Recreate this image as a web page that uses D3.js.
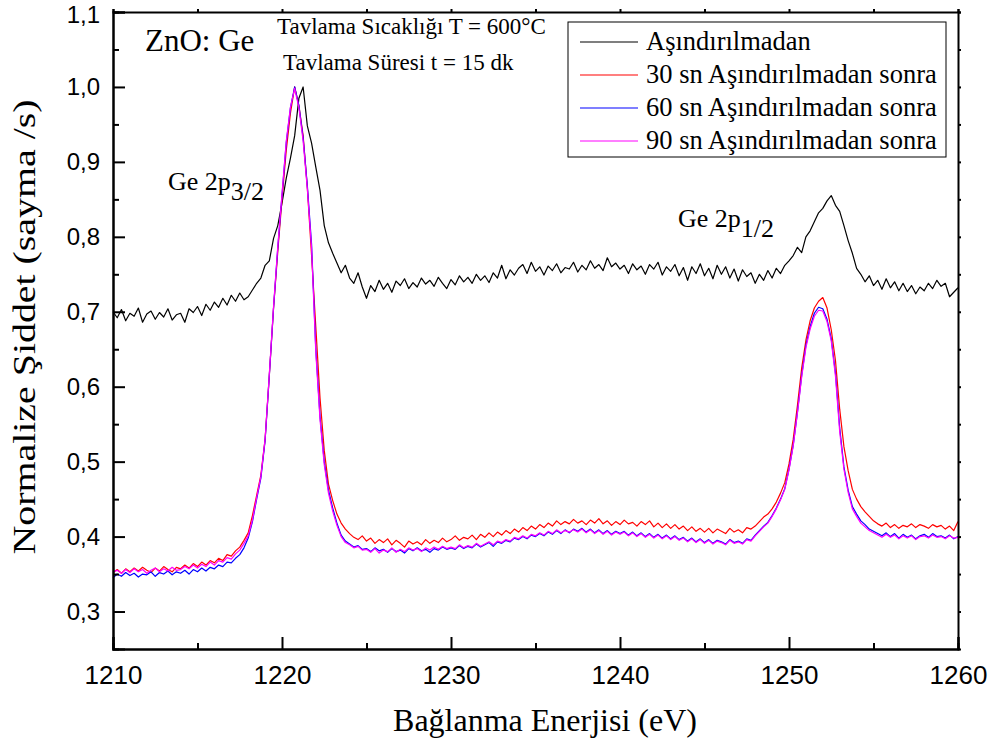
<!DOCTYPE html>
<html>
<head>
<meta charset="utf-8">
<script src="https://cdn.jsdelivr.net/npm/d3@7"></script>
<style>
  body { margin: 0; background: #fff; }
  svg text { font-family: "Liberation Serif", "Times New Roman", serif; fill: #000; }
  .axis text { font-family: "Liberation Sans", Arial, sans-serif; font-size: 24px; }
  .axis.xlab text { font-size: 26px; }
  .axis path, .axis line { stroke: #000; }
</style>
</head>
<body>
<svg id="chart" width="997" height="746"></svg>
<script>
// spectra sampled every 0.25 eV from 1210 to 1260 eV
const energyStart = 1210
const energyStep = 0.25

const seriesNames = ["Aşındırılmadan", "30 sn Aşındırılmadan sonra", "60 sn Aşındırılmadan sonra", "90 sn Aşındırılmadan sonra"]
const seriesColors = ["#000000", "#ff0000", "#0000ff", "#ff00ff"]

const unetched = [
  0.700,0.692,0.703,0.688,0.698,0.694,0.705,0.686,0.697,0.701,0.690,0.699,0.693,0.704,0.689,0.696,
  0.698,0.686,0.704,0.699,0.707,0.695,0.710,0.702,
  0.713,0.706,0.718,0.709,0.722,0.714,0.725,0.716,
  0.720,0.729,0.738,0.745,
  0.762,0.768,0.798,0.815,
  0.845,0.878,0.905,0.935,
  0.985,1.000,0.948,0.925,
  0.893,0.862,0.815,0.792,
  0.778,0.765,0.752,0.762,
  0.745,0.738,0.752,0.733,
  0.718,0.735,0.727,0.742,
  0.730,0.738,0.726,0.741,
  0.735,0.744,0.731,0.739,
  0.733,0.745,0.737,0.742,
  0.734,0.746,0.738,0.731,
  0.743,0.736,0.748,0.740,
  0.746,0.738,0.750,0.742,
  0.748,0.739,0.752,0.745,
  0.762,0.744,0.756,0.749,
  0.758,0.763,0.751,0.766,
  0.754,0.760,0.749,0.761,
  0.755,0.764,0.752,0.759,
  0.757,0.766,0.753,0.762,
  0.756,0.768,0.758,0.763,
  0.755,0.772,0.760,0.765,
  0.757,0.762,0.751,0.764,
  0.756,0.761,0.750,0.763,
  0.757,0.766,0.749,0.760,
  0.754,0.763,0.748,0.759,
  0.742,0.760,0.751,0.764,
  0.748,0.758,0.744,0.762,
  0.750,0.760,0.745,0.757,
  0.741,0.756,0.747,0.752,
  0.738,0.750,0.742,0.755,
  0.745,0.758,0.751,0.762,
  0.768,0.775,0.786,0.779,
  0.800,0.808,0.820,0.832,
  0.838,0.848,0.855,0.842,
  0.834,0.815,0.795,0.778,
  0.758,0.750,0.740,0.748,
  0.735,0.742,0.730,0.744,
  0.732,0.740,0.728,0.738,
  0.727,0.735,0.724,0.733,
  0.728,0.738,0.731,0.742,
  0.734,0.738,0.720,0.726,
  0.732
]

const etched30 = [
  0.352,0.356,0.351,0.357,0.353,0.358,0.354,0.359,0.355,0.352,0.358,0.354,0.360,0.356,0.353,0.359,
  0.357,0.362,0.358,0.364,0.360,0.366,0.362,0.368,
  0.365,0.371,0.368,0.376,0.374,0.381,0.386,0.395,
  0.405,0.428,0.455,0.482,
  0.530,0.615,0.705,0.780,
  0.850,0.915,0.965,1.000,
  0.975,0.935,0.865,0.775,
  0.680,0.585,0.515,0.470,
  0.448,0.430,0.418,0.410,
  0.404,0.399,0.396,0.401,
  0.394,0.398,0.391,0.396,
  0.392,0.397,0.389,0.395,
  0.391,0.386,0.394,0.390,
  0.393,0.389,0.396,0.391,
  0.395,0.392,0.398,0.393,
  0.396,0.401,0.395,0.399,
  0.397,0.402,0.396,0.403,
  0.399,0.405,0.400,0.406,
  0.402,0.408,0.404,0.410,
  0.406,0.412,0.408,0.414,
  0.410,0.416,0.412,0.418,
  0.414,0.421,0.416,0.420,
  0.417,0.423,0.418,0.421,
  0.416,0.422,0.418,0.424,
  0.417,0.421,0.415,0.420,
  0.416,0.422,0.417,0.419,
  0.414,0.420,0.416,0.421,
  0.413,0.418,0.412,0.417,
  0.411,0.416,0.410,0.414,
  0.408,0.413,0.407,0.411,
  0.406,0.411,0.405,0.410,
  0.407,0.404,0.411,0.406,
  0.409,0.405,0.412,0.410,
  0.414,0.420,0.426,0.430,
  0.437,0.446,0.458,0.472,
  0.497,0.530,0.575,0.625,
  0.662,0.688,0.705,0.714,
  0.719,0.705,0.676,0.635,
  0.570,0.520,0.488,0.463,
  0.450,0.440,0.433,0.427,
  0.421,0.417,0.414,0.418,
  0.412,0.416,0.411,0.415,
  0.413,0.417,0.412,0.416,
  0.414,0.411,0.416,0.413,
  0.415,0.410,0.414,0.408,
  0.420
]

const etched60 = [
  0.345,0.350,0.347,0.352,0.348,0.351,0.346,0.350,0.349,0.353,0.347,0.352,0.350,0.354,0.349,0.353,
  0.351,0.355,0.350,0.356,0.353,0.358,0.354,0.359,
  0.357,0.362,0.360,0.366,0.365,0.371,0.376,0.385,
  0.398,0.420,0.450,0.478,
  0.528,0.615,0.705,0.785,
  0.855,0.925,0.972,1.000,
  0.975,0.932,0.868,0.790,
  0.650,0.560,0.500,0.462,
  0.438,0.418,0.402,0.394,
  0.390,0.386,0.388,0.383,
  0.384,0.380,0.385,0.381,
  0.383,0.379,0.384,0.380,
  0.382,0.378,0.384,0.381,
  0.385,0.381,0.383,0.379,
  0.384,0.382,0.386,0.383,
  0.385,0.383,0.388,0.384,
  0.387,0.385,0.390,0.386,
  0.389,0.392,0.387,0.393,
  0.391,0.395,0.393,0.398,
  0.396,0.400,0.397,0.402,
  0.400,0.404,0.401,0.406,
  0.403,0.408,0.404,0.409,
  0.405,0.410,0.407,0.411,
  0.406,0.410,0.405,0.409,
  0.404,0.408,0.403,0.407,
  0.404,0.407,0.402,0.406,
  0.401,0.405,0.400,0.404,
  0.399,0.403,0.398,0.402,
  0.397,0.401,0.396,0.399,
  0.394,0.398,0.393,0.397,
  0.392,0.396,0.391,0.395,
  0.393,0.390,0.396,0.392,
  0.394,0.391,0.397,0.395,
  0.402,0.408,0.414,0.419,
  0.428,0.438,0.450,0.464,
  0.490,0.522,0.566,0.615,
  0.655,0.680,0.698,0.706,
  0.704,0.690,0.664,0.618,
  0.545,0.493,0.462,0.440,
  0.430,0.421,0.416,0.410,
  0.407,0.404,0.401,0.405,
  0.400,0.404,0.398,0.403,
  0.399,0.402,0.397,0.401,
  0.403,0.399,0.404,0.400,
  0.401,0.398,0.402,0.397,
  0.400
]

const etched90 = [
  0.353,0.355,0.351,0.356,0.352,0.357,0.353,0.356,0.351,0.355,0.358,0.353,0.357,0.354,0.359,0.355,
  0.356,0.360,0.357,0.362,0.358,0.363,0.360,0.366,
  0.362,0.368,0.366,0.372,0.370,0.377,0.382,0.391,
  0.401,0.422,0.452,0.480,
  0.530,0.617,0.707,0.787,
  0.857,0.927,0.973,0.998,
  0.972,0.928,0.864,0.785,
  0.646,0.556,0.496,0.458,
  0.434,0.415,0.400,0.392,
  0.389,0.385,0.387,0.382,
  0.383,0.379,0.384,0.378,
  0.382,0.380,0.385,0.379,
  0.383,0.380,0.385,0.382,
  0.384,0.380,0.385,0.382,
  0.386,0.383,0.387,0.384,
  0.386,0.384,0.389,0.385,
  0.388,0.386,0.391,0.387,
  0.390,0.393,0.389,0.394,
  0.392,0.396,0.394,0.399,
  0.397,0.401,0.398,0.403,
  0.401,0.405,0.402,0.407,
  0.404,0.409,0.405,0.408,
  0.406,0.409,0.406,0.410,
  0.405,0.409,0.404,0.408,
  0.403,0.407,0.402,0.406,
  0.403,0.406,0.401,0.405,
  0.400,0.404,0.399,0.403,
  0.398,0.402,0.397,0.401,
  0.396,0.400,0.395,0.398,
  0.393,0.397,0.392,0.396,
  0.391,0.395,0.390,0.394,
  0.392,0.389,0.395,0.391,
  0.393,0.390,0.396,0.394,
  0.401,0.407,0.413,0.418,
  0.427,0.437,0.449,0.463,
  0.489,0.521,0.565,0.613,
  0.652,0.677,0.694,0.702,
  0.701,0.687,0.661,0.614,
  0.540,0.490,0.459,0.437,
  0.427,0.418,0.413,0.408,
  0.405,0.402,0.399,0.403,
  0.399,0.402,0.397,0.401,
  0.398,0.401,0.396,0.400,
  0.401,0.398,0.402,0.399,
  0.400,0.397,0.401,0.398,
  0.399
]

const xMajorTicks = [1210, 1220, 1230, 1240, 1250, 1260]
const xMinorTicks = [1215, 1225, 1235, 1245, 1255]
const yMajorTicks = [0.3, 0.4, 0.5, 0.6, 0.7, 0.8, 0.9, 1.0, 1.1]
const yMinorTicks = [0.35, 0.45, 0.55, 0.65, 0.75, 0.85, 0.95, 1.05]

const allSeries = [unetched, etched30, etched60, etched90]

const svg = d3.select("#chart")
const plotLeft = 113, plotRight = 958, plotTop = 12, plotBottom = 649

const x = d3.scaleLinear().domain([1210, 1260]).range([plotLeft, plotRight])
const y = d3.scaleLinear().domain([0.25, 1.1]).range([plotBottom, plotTop])

svg.append("rect").attr("width", 997).attr("height", 746).attr("fill", "#fff")

// spectra
const line = d3.line()
  .x((d, i) => x(energyStart + i * energyStep))
  .y(d => y(d))

svg.append("g")
  .selectAll("path")
  .data(allSeries)
  .enter().append("path")
  .attr("d", d => line(d))
  .attr("fill", "none")
  .attr("stroke", (d, i) => seriesColors[i])
  .attr("stroke-width", 1.2)
  .attr("stroke-linejoin", "round")

const commaFmt = v => d3.format(".1f")(v).replace(".", ",")

// bottom axis: labelled majors + minors, ticks pointing in
svg.append("g").attr("class", "axis")
  .attr("transform", `translate(0,${plotBottom})`)
  .call(d3.axisBottom(x).tickValues(xMinorTicks).tickSize(-6).tickFormat(""))
svg.append("g").attr("class", "axis xlab")
  .attr("transform", `translate(0,${plotBottom})`)
  .call(d3.axisBottom(x).tickValues(xMajorTicks).tickSize(-12).tickPadding(17).tickFormat(d3.format("d")))

// left axis
svg.append("g").attr("class", "axis")
  .attr("transform", `translate(${plotLeft},0)`)
  .call(d3.axisLeft(y).tickValues(yMinorTicks).tickSize(-6).tickFormat(""))
const yAxisG = svg.append("g").attr("class", "axis")
  .attr("transform", `translate(${plotLeft},0)`)
  .call(d3.axisLeft(y).tickValues(yMajorTicks).tickSize(-12).tickPadding(13).tickFormat(commaFmt))
// keep the top label inside the page
yAxisG.selectAll(".tick text").filter(d => d > 1.05).attr("dy", "0.42em")

// top and right frame with small outward ticks
svg.append("g").attr("class", "axis")
  .attr("transform", `translate(0,${plotTop})`)
  .call(d3.axisTop(x).tickValues(xMajorTicks.concat(xMinorTicks)).tickSize(3).tickFormat(""))
svg.append("g").attr("class", "axis")
  .attr("transform", `translate(${plotRight},0)`)
  .call(d3.axisRight(y).tickValues(yMajorTicks.concat(yMinorTicks)).tickSize(3).tickFormat(""))

svg.selectAll(".axis path").attr("stroke-width", 2)
svg.selectAll(".axis line").attr("stroke-width", 2)

// axis titles
svg.append("text")
  .attr("x", 545).attr("y", 731)
  .attr("text-anchor", "middle")
  .style("font-size", "32px")
  .text("Bağlanma Enerjisi (eV)")

svg.append("text")
  .attr("transform", "translate(35,327) rotate(-90)")
  .attr("text-anchor", "middle")
  .attr("textLength", 455)
  .attr("lengthAdjust", "spacingAndGlyphs")
  .style("font-size", "32px")
  .text("Normalize Şiddet (sayma /s)")

// annotations
svg.append("text").attr("x", 145).attr("y", 51).style("font-size", "31px").text("ZnO: Ge")
svg.append("text").attr("x", 277).attr("y", 34).style("font-size", "23px").text("Tavlama Sıcaklığı T = 600°C")
svg.append("text").attr("x", 283).attr("y", 70).style("font-size", "23px").text("Tavlama Süresi t = 15 dk")

const peakLabels = [
  { x: 168, y: 190, sub: "3/2" },
  { x: 678, y: 227, sub: "1/2" }
]
peakLabels.forEach(p => {
  const t = svg.append("text").attr("x", p.x).attr("y", p.y).style("font-size", "26px")
  t.append("tspan").text("Ge 2p")
  t.append("tspan").attr("dy", 10).text(p.sub)
})

// legend
const legend = svg.append("g")
legend.append("rect")
  .attr("x", 568).attr("y", 22).attr("width", 378).attr("height", 135)
  .attr("fill", "#fff").attr("stroke", "#000").attr("stroke-width", 1)

const rowY = [42, 75, 108, 141]
const rows = legend.selectAll("g.row")
  .data(seriesNames)
  .enter().append("g").attr("class", "row")
  .attr("transform", (d, i) => `translate(0,${rowY[i]})`)
rows.append("line")
  .attr("x1", 580).attr("x2", 638)
  .attr("stroke", (d, i) => seriesColors[i])
  .attr("stroke-width", 1.2)
rows.append("text")
  .attr("x", 646).attr("y", 8)
  .style("font-size", "26.5px")
  .text(d => d)
</script>
</body>
</html>
